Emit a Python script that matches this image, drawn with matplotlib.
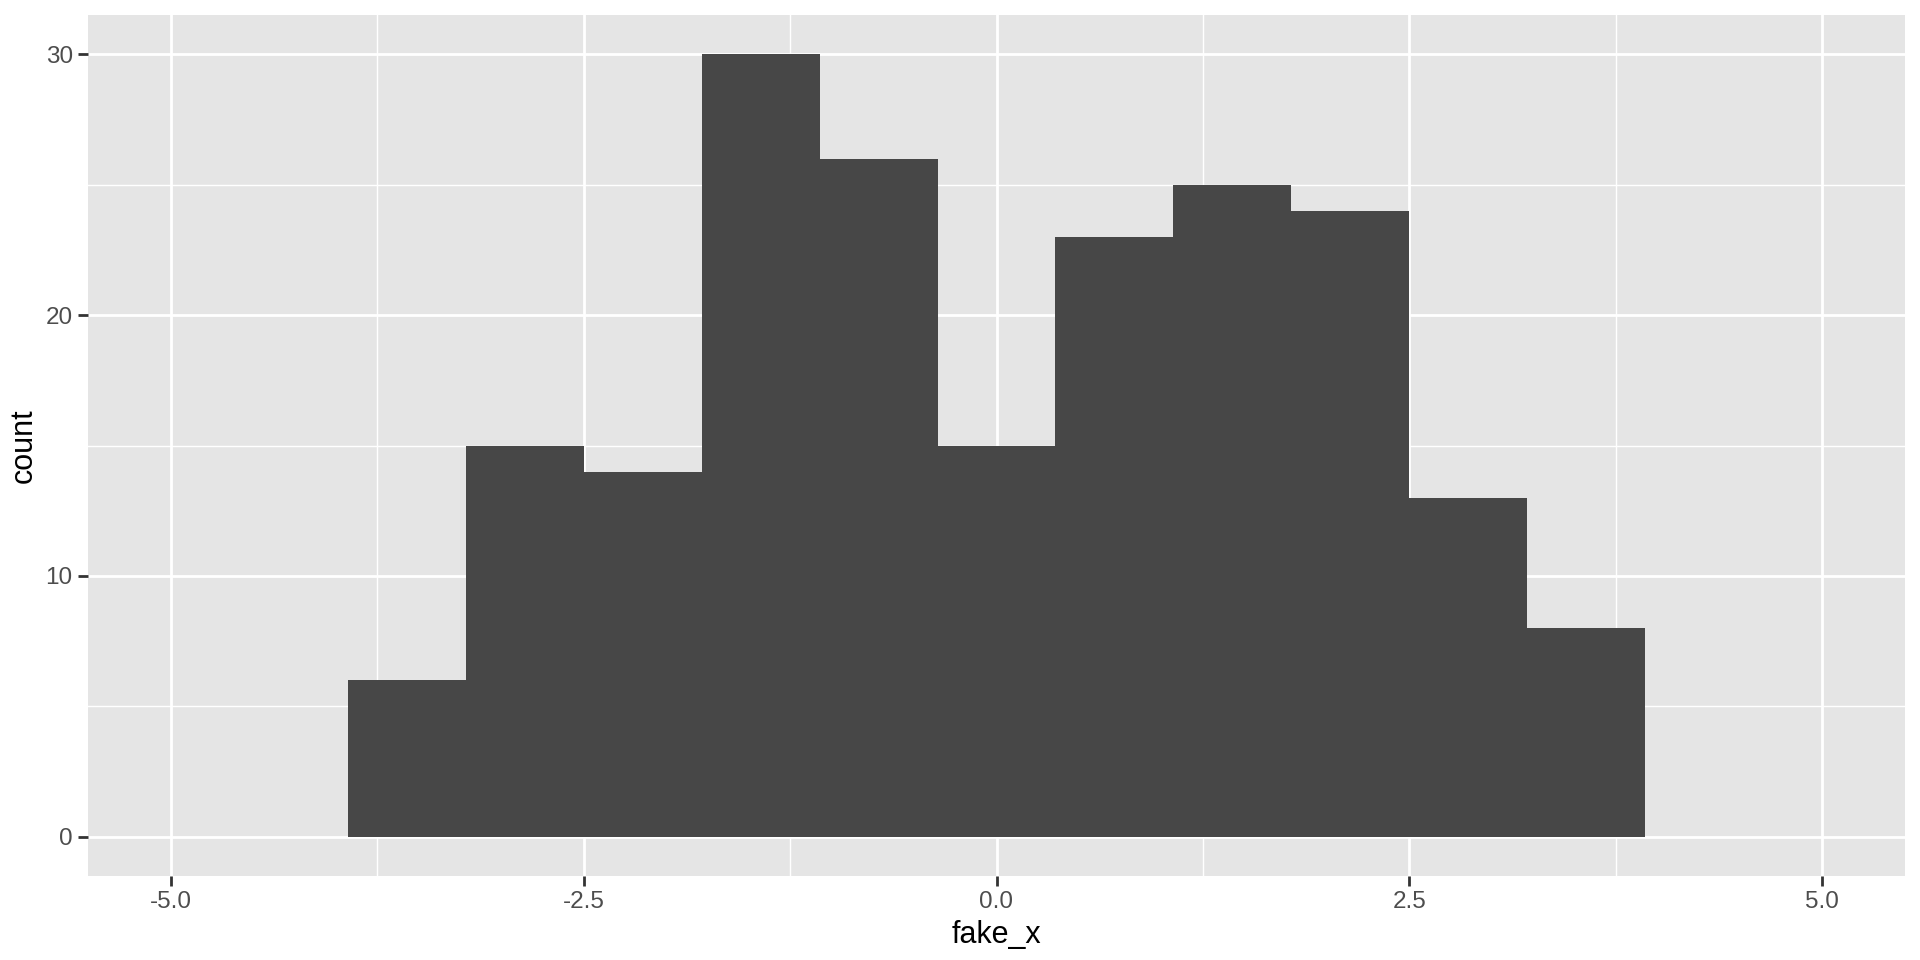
import numpy as np
import matplotlib
matplotlib.use("Agg")
import matplotlib.pyplot as plt

binwidth = 5 / 7
bin_index = [-5, -4, -3, -2, -1, 0, 1, 2, 3, 4, 5]
counts = [6, 15, 14, 30, 26, 15, 23, 25, 24, 13, 8]
x_ticks = [-5.0, -2.5, 0.0, 2.5, 5.0]
x_tick_labels = ["-5.0", "-2.5", "0.0", "2.5", "5.0"]
y_ticks = [0, 10, 20, 30]

plt.rcParams['font.family'] = ['Liberation Sans', 'DejaVu Sans']

fig = plt.figure(figsize=(19.2, 9.6), dpi=100)
ax = fig.add_axes([88 / 1920, 1 - 876 / 960, (1905 - 88) / 1920, (876 - 15) / 960])
ax.set_facecolor('#E5E5E5')

centers = np.array(bin_index) * binwidth
ax.bar(centers, counts, width=binwidth, color='#474747', edgecolor='none', zorder=3)

ax.set_xlim(-5.5, 5.5)
ax.set_ylim(-1.5, 31.5)
ax.set_xticks(x_ticks)
ax.set_xticklabels(x_tick_labels)
ax.set_yticks(y_ticks)
ax.set_xticks([-3.75, -1.25, 1.25, 3.75], minor=True)
ax.set_yticks([5, 15, 25], minor=True)

ax.grid(which='major', color='white', linewidth=2.0, zorder=1)
ax.grid(which='minor', color='white', linewidth=1.0, zorder=1)
ax.set_axisbelow(True)
for s in ax.spines.values():
    s.set_visible(False)

ax.tick_params(which='major', length=7, width=2, color='#333333',
               labelsize=17.5, labelcolor='#4D4D4D', pad=4)
ax.tick_params(which='minor', length=0)

ax.set_xlabel('fake_x', fontsize=22, color='black', labelpad=5)
ax.set_ylabel('count', fontsize=22, color='black', labelpad=5)

fig.savefig('out.png', dpi=100, facecolor='white')
